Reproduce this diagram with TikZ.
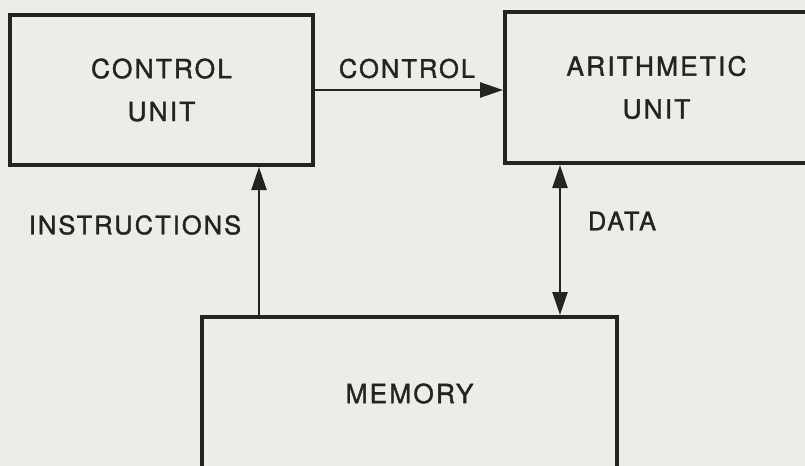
\documentclass[tikz,border=0pt]{standalone}
\usepackage{fontspec}
\setmainfont{TeX Gyre Heros}[LetterSpace=8,FakeBold=1.3]
\usetikzlibrary{arrows.meta}
\definecolor{paper}{RGB}{235,237,230}
\definecolor{ink}{RGB}{35,35,35}
\tikzset{
  unitbox/.style={draw=ink, line width=2.3pt, align=center, text=ink,
    font=\fontsize{15}{24.4}\selectfont},
  flowlabel/.style={text=ink, font=\fontsize{14.5}{17}\selectfont},
  arr/.style={draw=ink, line width=1.4pt, -{Triangle[length=0.46cm,width=0.3cm]}},
  biarr/.style={draw=ink, line width=1.4pt, {Triangle[length=0.46cm,width=0.3cm]}-{Triangle[length=0.46cm,width=0.3cm]}}
}
\begin{document}
\begin{tikzpicture}[x=0.02cm,y=-0.02cm]
\fill[paper] (0,0) rectangle (805,466);
\clip (0,0) rectangle (805,466);

\node[unitbox, minimum width=6.06cm, minimum height=3cm] (ctrl) at (161.5,90) {CONTROL\\UNIT};
\node[unitbox, minimum width=6.06cm, minimum height=3.02cm] (arith) at (656.5,87.5) {ARITHMETIC\\UNIT};
\node[unitbox, minimum width=8.3cm, minimum height=3.06cm] (mem) at (409.5,393.5) {MEMORY};

\coordinate (ix) at (259,0);
\coordinate (dx) at (560,0);

\path[arr] (ctrl.east) -- (ctrl.east -| arith.west);
\path[arr] (mem.north -| ix) -- (ctrl.south -| ix);
\path[biarr] (arith.south -| dx) -- (mem.north -| dx);

\node[flowlabel] (lcontrol) at (407,68.5) {CONTROL};
\node[flowlabel] (linstr) at (135,225) {INSTRUCTIONS};
\node[flowlabel] (ldata) at (622,221) {DATA};

\end{tikzpicture}
\end{document}
